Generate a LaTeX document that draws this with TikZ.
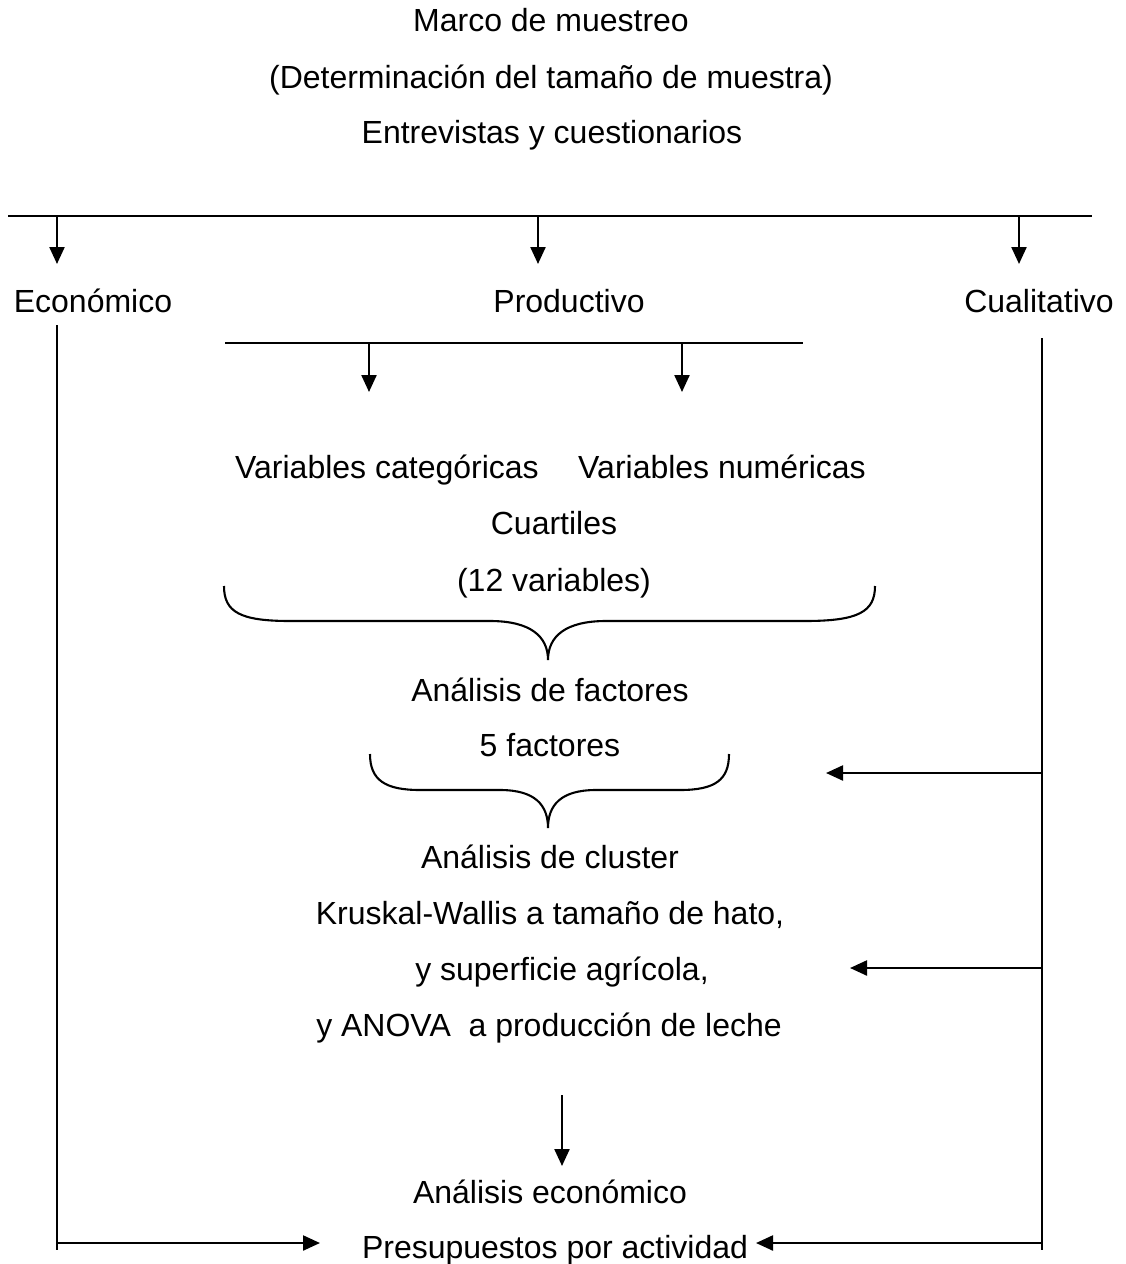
\documentclass[tikz,border=0pt]{standalone}
\usepackage{fontspec}
\setmainfont{Liberation Sans}
\usetikzlibrary{arrows.meta}
\begin{document}
\begin{tikzpicture}[x=1pt,y=-1pt,
  lbl/.style={anchor=base,inner sep=0pt,font=\fontsize{32}{38}\selectfont},
  ln/.style={line width=2.3pt},
  arr/.style={line width=2.3pt,-{Triangle[length=17pt,width=15pt]}}]
\useasboundingbox (0,0) rectangle (1126,1264);
% texts
\node[lbl] (marco) at (551,31) {Marco de muestreo};
\node[lbl] (det) at (551,88) {(Determinación del tamaño de muestra)};
\node[lbl] (entr) at (552,143) {Entrevistas y cuestionarios};
\node[lbl] (eco) at (93,312) {Económico};
\node[lbl] (prod) at (569,312) {Productivo};
\node[lbl] (cual) at (1039,312) {Cualitativo};
\node[lbl] (vcat) at (387,478) {Variables categóricas};
\node[lbl] (vnum) at (722,478) {Variables numéricas};
\node[lbl] (cuar) at (554,534) {Cuartiles};
\node[lbl] (doce) at (554,591) {(12 variables)};
\node[lbl] (afac) at (550,701) {Análisis de factores};
\node[lbl] (cinco) at (550,756) {5 factores};
\node[lbl] (aclu) at (550,868) {Análisis de cluster};
\node[lbl] (krus) at (550,924) {Kruskal-Wallis a tamaño de hato,};
\node[lbl] (sup) at (562,980) {y superficie agrícola,};
\node[lbl] (anova) at (549,1036) {y ANOVA\ \ a producción de leche};
\node[lbl] (aeco) at (550,1203) {Análisis económico};
\node[lbl] (pres) at (555,1258) {Presupuestos por actividad};
% coordinates
\coordinate (tl) at (8,216);
\coordinate (tr) at (1092,216);
\coordinate (t1) at (57,216);
\coordinate (t2) at (538,216);
\coordinate (t3) at (1019,216);
\coordinate (e1) at (57,264);
\coordinate (e2) at (538,264);
\coordinate (e3) at (1019,264);
\coordinate (pl) at (225,343);
\coordinate (pr) at (803,343);
\coordinate (p1) at (369,343);
\coordinate (p2) at (682,343);
\coordinate (q1) at (369,392);
\coordinate (q2) at (682,392);
\coordinate (ecotop) at (57,325);
\coordinate (ecobot) at (57,1250);
\coordinate (cualtop) at (1042,338);
\coordinate (cualbot) at (1042,1250);
\coordinate (c1) at (1042,773);
\coordinate (c1t) at (826,773);
\coordinate (c2) at (1042,968);
\coordinate (c2t) at (850,968);
\coordinate (m1) at (562,1095);
\coordinate (m2) at (562,1166);
\coordinate (b1) at (57,1243);
\coordinate (b1t) at (320,1243);
\coordinate (b2) at (1042,1243);
\coordinate (b2t) at (756,1243);
% lines
\draw[ln] (tl) -- (tr);
\draw[arr] (t1) -- (e1);
\draw[arr] (t2) -- (e2);
\draw[arr] (t3) -- (e3);
\draw[ln] (pl) -- (pr);
\draw[arr] (p1) -- (q1);
\draw[arr] (p2) -- (q2);
\draw[ln] (ecotop) -- (ecobot);
\draw[ln] (cualtop) -- (cualbot);
\draw[arr] (c1) -- (c1t);
\draw[arr] (c2) -- (c2t);
\draw[arr] (m1) -- (m2);
\draw[arr] (b1) -- (b1t);
\draw[arr] (b2) -- (b2t);
% braces
\draw[line width=2.1pt]
  (224,586) .. controls (224,612) and (240,621) .. (290,621) -- (490,621)
  .. controls (530,621) and (548,636) .. (548,660)
  .. controls (548,636) and (566,621) .. (606,621) -- (805,621)
  .. controls (858,621) and (875,612) .. (875,586);
\draw[line width=2.1pt]
  (370,754) .. controls (370,780) and (385,790) .. (420,790) -- (500,790)
  .. controls (535,790) and (548,805) .. (548,828)
  .. controls (548,805) and (561,790) .. (596,790) -- (680,790)
  .. controls (715,790) and (729,780) .. (729,754);
\end{tikzpicture}
\end{document}
